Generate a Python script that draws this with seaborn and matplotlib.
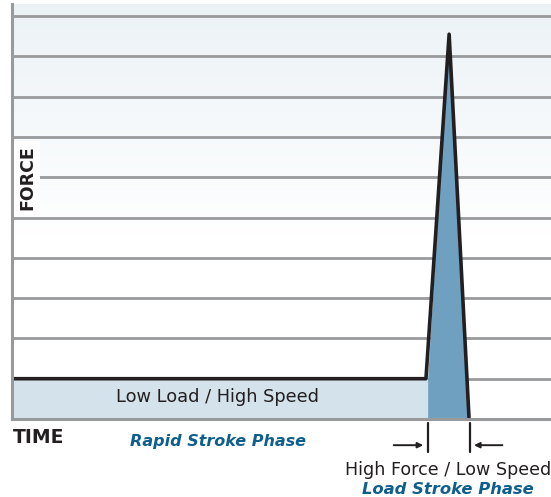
import numpy as np
import pandas as pd
import matplotlib
matplotlib.use("Agg")
import matplotlib.pyplot as plt
import seaborn as sns
from matplotlib.colors import LinearSegmentedColormap

# ---- data (arbitrary units) ----
time_pts = [0, 76.8, 81.1, 84.8]        # time
force_pts = [1.0, 1.0, 9.55, 0.0]        # force
grid_levels = [1, 2, 3, 4, 5, 6, 7, 8, 9, 10]
rapid_end = 77.2
load_end = 84.8

sns.set_theme(style="white")
plt.rcParams['font.family'] = ['DejaVu Sans']

fig = plt.figure(figsize=(5.51, 4.97), dpi=100)
ax = fig.add_axes([12/551, (497-419)/497, 1 - 12/551, 415/497])
ax.set_xlim(0, 100)
ax.set_ylim(0, 10.3)

# faint background gradient at top
grad = np.linspace(1, 0, 256).reshape(-1, 1)
cmap = LinearSegmentedColormap.from_list("bg", ["#ffffff", "#ebf2f6"])
ax.imshow(grad, extent=[0, 100, 4.5, 10.3], aspect="auto", cmap=cmap,
          zorder=0, origin="upper", vmin=0, vmax=1)
ax.set_facecolor("white")

grid_col = "#999a9c"
for g in grid_levels:
    ax.axhline(g, color=grid_col, lw=2.0, zorder=1)

# fills
ax.fill_between([0, rapid_end], 0, 1.0, color="#d4e2eb", zorder=2, lw=0)
ax.fill([rapid_end, rapid_end, time_pts[2], load_end],
        [0, 1.0, force_pts[2], 0], color="#6fa0c0", zorder=2, lw=0)

df = pd.DataFrame({"time": time_pts, "force": force_pts})
sns.lineplot(data=df, x="time", y="force", ax=ax, color="#231f20", lw=2.6,
             zorder=4, sort=False)
ax.set_xlabel("")
ax.set_ylabel("")
ax.set_xticks([])
ax.set_yticks([])

for s in ["top", "right"]:
    ax.spines[s].set_visible(False)
for s in ["left", "bottom"]:
    ax.spines[s].set_color(grid_col)
    ax.spines[s].set_linewidth(2.2)
    ax.spines[s].set_zorder(5)

# labels
ax.text(2.8, 6.0, "FORCE", rotation=90, ha="center", va="center",
        fontsize=12.5, fontweight="bold", color="#231f20", zorder=6,
        bbox=dict(facecolor="white", edgecolor="none", pad=3))
ax.text(38.2, 0.55, "Low Load / High Speed", ha="center", va="center",
        fontsize=12.8, color="#231f20", zorder=6)
ax.text(0.2, -0.45, "TIME", ha="left", va="center", fontsize=13.5,
        fontweight="bold", color="#231f20", clip_on=False)
ax.text(38.2, -0.55, "Rapid Stroke Phase", ha="center", va="center",
        fontsize=11.5, fontweight="bold", style="italic", color="#0e5f8c",
        clip_on=False)
ax.text(80.9, -1.27, "High Force / Low Speed", ha="center", va="center",
        fontsize=12.6, color="#231f20", clip_on=False)
ax.text(80.9, -1.74, "Load Stroke Phase", ha="center", va="center",
        fontsize=11.8, fontweight="bold", style="italic", color="#0e5f8c",
        clip_on=False)

# dimension arrows
ax.plot([rapid_end - 0.1, rapid_end - 0.1], [-0.1, -0.82], color="#231f20",
        lw=1.6, clip_on=False)
ax.plot([load_end + 0.1, load_end + 0.1], [-0.1, -0.82], color="#231f20",
        lw=1.6, clip_on=False)
ax.annotate("", xy=(rapid_end - 0.4, -0.65), xytext=(70.3, -0.65),
            arrowprops=dict(arrowstyle="-|>", color="#231f20", lw=1.4,
                            mutation_scale=8), annotation_clip=False)
ax.annotate("", xy=(load_end + 0.4, -0.65), xytext=(91.5, -0.65),
            arrowprops=dict(arrowstyle="-|>", color="#231f20", lw=1.4,
                            mutation_scale=8), annotation_clip=False)

fig.savefig("out.png", dpi=100)
